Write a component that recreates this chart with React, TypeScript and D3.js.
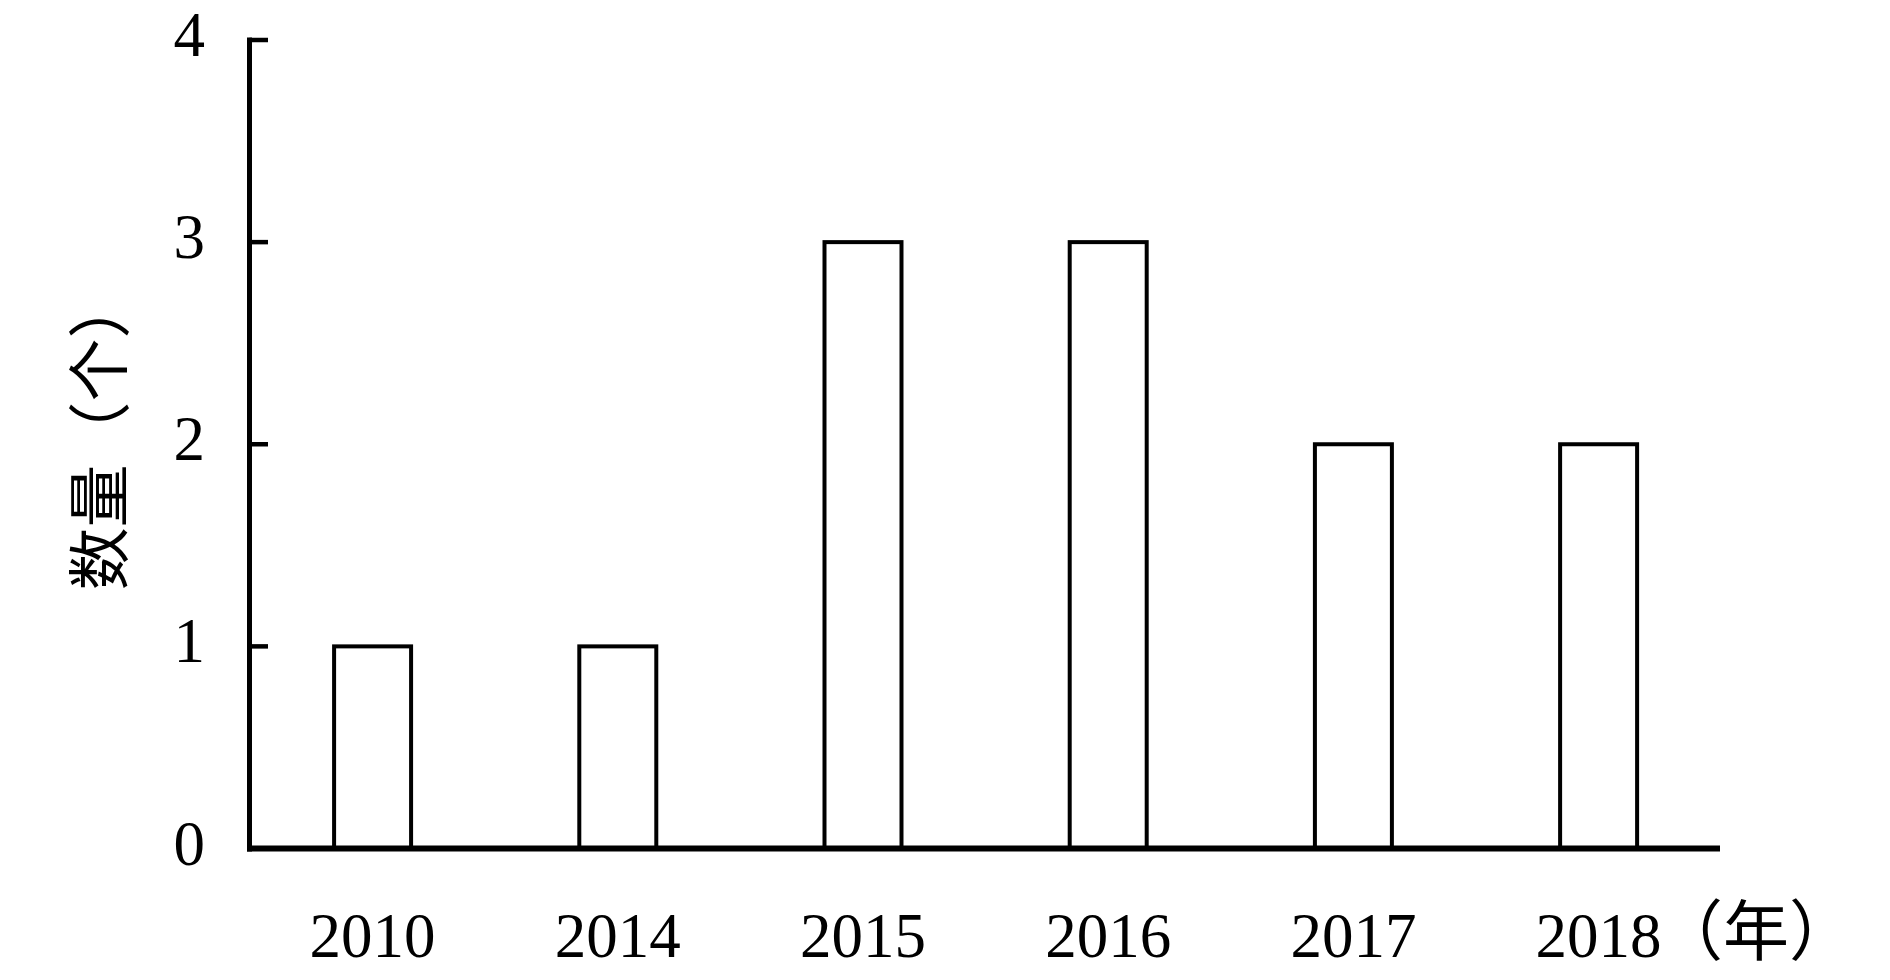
import React from "react";
import * as d3 from "d3";

const categories = ["2010", "2014", "2015", "2016", "2017", "2018"];
const values = [1, 1, 3, 3, 2, 2];
const yTicks = [0, 1, 2, 3, 4];
const yLabel = "数量（个）";
const xUnit = "（年）";

const W = 1890;
const H = 980;
const axisX = 249.5;
const axisY = 848.5;
const top = 40;
const xEnd = 1720;

export default function App() {
  const x = d3
    .scaleBand<string>()
    .domain(categories)
    .range([axisX, 1721.7])
    .paddingInner(0.686)
    .paddingOuter(0.345);
  const y = d3.scaleLinear().domain([0, 4]).range([axisY, top]);
  const serif = "'Liberation Serif', 'Times New Roman', serif";
  const cjk = "'Noto Sans CJK SC', sans-serif";
  return (
    <svg
      width={W}
      height={H}
      style={{ position: "absolute", left: 0, top: 0, background: "#fff" }}
    >
      {categories.map((c, i) => (
        <rect
          key={c}
          x={x(c)!}
          y={y(values[i])}
          width={x.bandwidth()}
          height={y(0) - y(values[i])}
          fill="#fff"
          stroke="#000"
          strokeWidth={4}
        />
      ))}
      {/* y axis */}
      <line x1={axisX} x2={axisX} y1={top - 2.5} y2={axisY + 3} stroke="#000" strokeWidth={5} />
      {yTicks.map((t) => (
        <g key={t}>
          <line x1={axisX} x2={268} y1={y(t)} y2={y(t)} stroke="#000" strokeWidth={4.5} />
          <text
            x={205}
            y={y(t) + 16}
            textAnchor="end"
            fontFamily={serif}
            fontSize={63}
            fill="#000"
          >
            {t}
          </text>
        </g>
      ))}
      {/* x axis */}
      <line x1={axisX - 2.5} x2={xEnd} y1={axisY} y2={axisY} stroke="#000" strokeWidth={6} />
      {categories.map((c) => (
        <text
          key={c}
          x={x(c)! + x.bandwidth() / 2}
          y={957}
          textAnchor="middle"
          fontFamily={serif}
          fontSize={63}
          fill="#000"
        >
          {c}
        </text>
      ))}
      <text x={1657} y={955} fontFamily={cjk} fontSize={66} fill="#000">
        {xUnit}
      </text>
      <text
        transform={`translate(122, 433) rotate(-90)`}
        textAnchor="middle"
        fontFamily={cjk}
        fontSize={63}
        fill="#000"
      >
        {yLabel}
      </text>
    </svg>
  );
}
